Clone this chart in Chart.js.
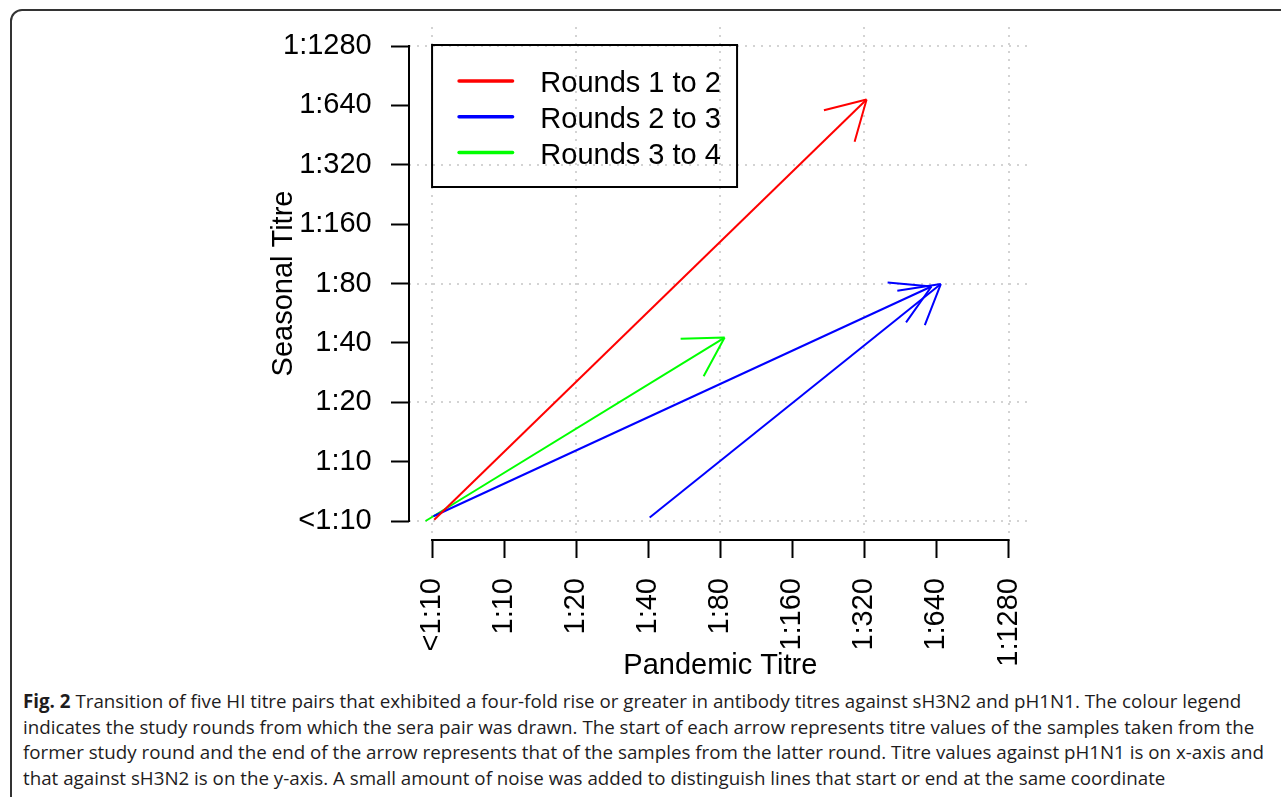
<!DOCTYPE html>
<html>
<head>
<meta charset="utf-8">
<script src="https://cdn.jsdelivr.net/npm/chart.js@4.4.1/dist/chart.umd.min.js"></script>
<style>
  html, body { margin: 0; padding: 0; background: #fff; overflow: hidden; }
  body { width: 1281px; height: 797px; position: relative; }
  #frame { position: absolute; left: 10px; top: 9px; width: 1300px; height: 820px;
           border: 2px solid #333; border-radius: 12px; box-sizing: border-box; }
  #chart { position: absolute; left: 0; top: 0; }
  #caption { position: absolute; left: 23px; top: 688px; font-family: 'Open Sans', sans-serif;
             font-size: 18.75px; line-height: 25.5px; color: #1e1c1d; white-space: nowrap; }
</style>
</head>
<body>
<div id="frame"></div>
<canvas id="chart" width="1281" height="680"></canvas>
<div id="caption"><b>Fig. 2</b> Transition of five HI titre pairs that exhibited a four-fold rise or greater in antibody titres against sH3N2 and pH1N1. The colour legend<br>indicates the study rounds from which the sera pair was drawn. The start of each arrow represents titre values of the samples taken from the<br>former study round and the end of the arrow represents that of the samples from the latter round. Titre values against pH1N1 is on x-axis and<br>that against sH3N2 is on the y-axis. A small amount of noise was added to distinguish lines that start or end at the same coordinate</div>
<script>
// titre categories, used on both axes (index = position on the axis)
const titreLabels = ['<1:10', '1:10', '1:20', '1:40', '1:80', '1:160', '1:320', '1:640', '1:1280'];
const roundNames = ['Rounds 1 to 2', 'Rounds 2 to 3', 'Rounds 3 to 4'];

// one entry per arrow; positions are in titre steps (noise included)
const arrowRound   = [0, 1, 1, 2];
const pandemicFrom = [0.03, 0.02, 3.02, -0.09];
const seasonalFrom = [0.02, 0.08, 0.06, 0.00];
const pandemicTo   = [6.03, 6.93, 7.06, 4.06];
const seasonalTo   = [7.10, 3.95, 3.99, 3.09];

const roundColours = ['#ff0000', '#0000ff', '#00ff00'];
const fontFamily = "'Liberation Sans', Arial, Helvetica, sans-serif";
const axisFont = { family: fontFamily, size: 29, lineHeight: 1 };

const datasets = arrowRound.map((r, i) => ({
    label: roundNames[r],
    data: [{ x: pandemicFrom[i], y: seasonalFrom[i] }, { x: pandemicTo[i], y: seasonalTo[i] }],
    showLine: true,
    borderColor: roundColours[r],
    borderWidth: 2,
    pointRadius: 0,
    fill: false
}));

// dotted grid like R's grid(): every other tick
const rGrid = {
    id: 'rGrid',
    beforeDatasetsDraw(chart) {
        const { ctx, chartArea: a, scales: { x, y } } = chart;
        ctx.save();
        ctx.strokeStyle = '#d3d3d3';
        ctx.lineWidth = 2;
        ctx.setLineDash([2, 6]);
        titreLabels.forEach((_, i) => {
            if (i % 2) return;
            const px = Math.round(x.getPixelForValue(i));
            const py = Math.round(y.getPixelForValue(i));
            ctx.beginPath();
            ctx.moveTo(px, a.top); ctx.lineTo(px, a.bottom);
            ctx.moveTo(a.left, py); ctx.lineTo(a.right, py);
            ctx.stroke();
        });
        ctx.restore();
    }
};

const arrowHeads = {
    id: 'arrowHeads',
    afterDatasetsDraw(chart) {
        const ctx = chart.ctx;
        chart.data.datasets.forEach((ds, i) => {
            const pts = chart.getDatasetMeta(i).data;
            const a = pts[0], b = pts[1];
            const ang = Math.atan2(b.y - a.y, b.x - a.x);
            ctx.save();
            ctx.strokeStyle = ds.borderColor;
            ctx.lineWidth = 2;
            ctx.beginPath();
            [-1, 1].forEach(s => {
                const t = ang + Math.PI + s * Math.PI / 6;
                ctx.moveTo(b.x, b.y);
                ctx.lineTo(b.x + 44 * Math.cos(t), b.y + 44 * Math.sin(t));
            });
            ctx.stroke();
            ctx.restore();
        });
    }
};

// axis lines from first to last tick, R style
const rAxes = {
    id: 'rAxes',
    afterDraw(chart) {
        const { ctx, chartArea: a, scales: { x, y } } = chart;
        const last = titreLabels.length - 1;
        ctx.save();
        ctx.strokeStyle = '#000';
        ctx.lineWidth = 2;
        ctx.lineCap = 'square';
        ctx.beginPath();
        ctx.moveTo(a.left, y.getPixelForValue(0)); ctx.lineTo(a.left, y.getPixelForValue(last));
        ctx.moveTo(x.getPixelForValue(0), a.bottom); ctx.lineTo(x.getPixelForValue(last), a.bottom);
        ctx.stroke();
        ctx.restore();
    }
};

const rLegend = {
    id: 'rLegend',
    afterDraw(chart) {
        const { ctx, scales: { x, y } } = chart;
        const left = x.getPixelForValue(0), top = y.getPixelForValue(titreLabels.length - 1) - 1;
        ctx.save();
        ctx.strokeStyle = '#000';
        ctx.lineWidth = 2;
        ctx.strokeRect(left, top, 305, 142);
        ctx.font = '29px ' + fontFamily;
        ctx.fillStyle = '#000';
        ctx.textBaseline = 'alphabetic';
        roundNames.forEach((name, i) => {
            const ry = top + 36 + i * 35.8;
            ctx.strokeStyle = roundColours[i];
            ctx.lineWidth = 3.5;
            ctx.lineCap = 'round';
            ctx.beginPath();
            ctx.moveTo(left + 27, ry); ctx.lineTo(left + 80.5, ry);
            ctx.stroke();
            ctx.fillText(name, left + 108.3, ry + 11);
        });
        ctx.restore();
    }
};

function noEdgePadding(s) {
    s.paddingTop = 0; s.paddingBottom = 0; s.paddingLeft = 0; s.paddingRight = 0;
}

function titreScale(title, extra) {
    return Object.assign({
        type: 'linear',
        min: -0.32,
        max: 8.32,
        afterBuildTicks: s => { s.ticks = titreLabels.map((_, i) => ({ value: i })); },
        ticks: {
            callback: v => titreLabels[Math.round(v)],
            font: axisFont,
            color: '#000',
            autoSkip: false
        },
        grid: {
            drawOnChartArea: false,
            drawTicks: true,
            tickLength: 18,
            tickWidth: 2,
            tickColor: '#000',
            color: 'rgba(0,0,0,0)'
        },
        border: { display: false },
        title: { display: true, text: title, font: axisFont, color: '#000' }
    }, extra);
}

const xScale = titreScale('Pandemic Titre', { afterFit: s => { s.height = 140; noEdgePadding(s); } });
xScale.ticks.padding = 20;
xScale.ticks.minRotation = 90;
xScale.ticks.maxRotation = 90;
xScale.title.padding = { top: 0, bottom: 0 };

const yScale = titreScale('Seasonal Titre', { afterFit: s => { s.width = 149; noEdgePadding(s); } });
yScale.ticks.padding = 19.3;
yScale.title.padding = { top: 9.5, bottom: 0 };

new Chart(document.getElementById('chart'), {
    type: 'scatter',
    data: { datasets: datasets },
    options: {
        responsive: false,
        animation: false,
        layout: { padding: { left: 260, right: 249.4, top: 27, bottom: 0 } },
        plugins: { legend: { display: false }, tooltip: { enabled: false } },
        scales: { x: xScale, y: yScale }
    },
    plugins: [rGrid, arrowHeads, rAxes, rLegend]
});
</script>
</body>
</html>
